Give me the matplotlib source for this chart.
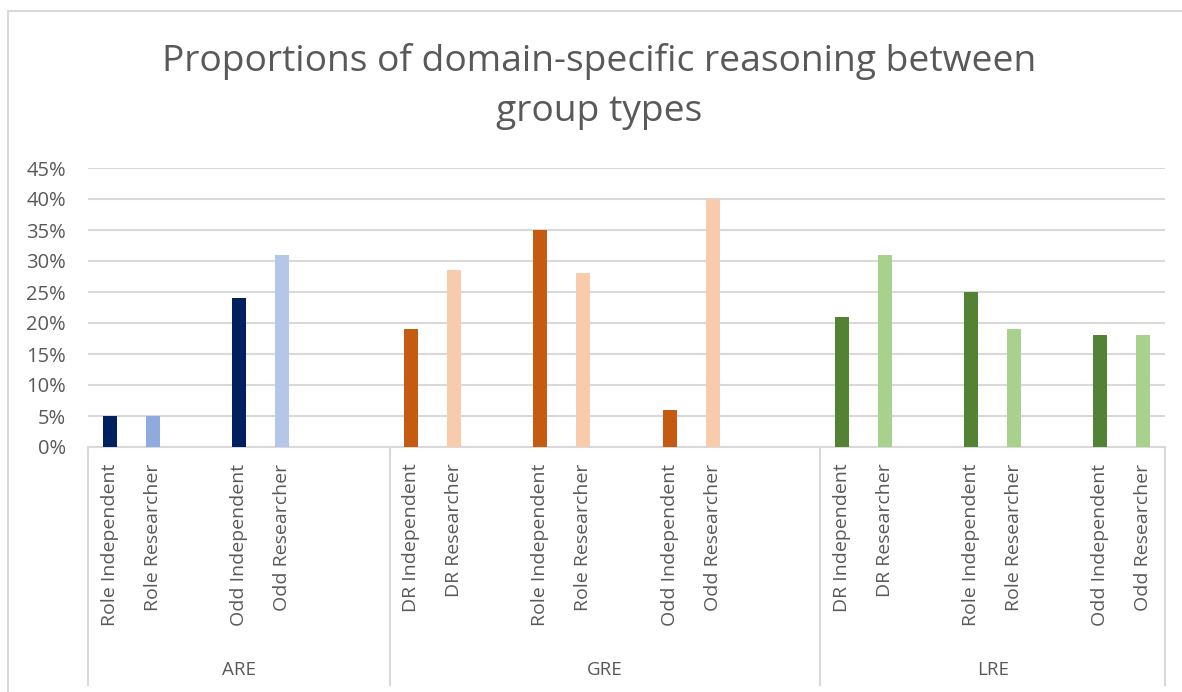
import matplotlib.pyplot as plt
import matplotlib.patches as patches
import numpy as np

plt.rcParams['font.family'] = ['Open Sans', 'DejaVu Sans']

# data, one slot per category (blank slots are empty categories in the source sheet)
groups = ["ARE", "GRE", "LRE"]
are_labels = ["Role Independent", "Role Researcher", "", "Odd Independent", "Odd Researcher", "", ""]
are_values = [0.05, 0.05, np.nan, 0.24, 0.31, np.nan, np.nan]
gre_labels = ["DR Independent", "DR Researcher", "", "Role Independent", "Role Researcher", "",
              "Odd Independent", "Odd Researcher", "", ""]
gre_values = [0.19, 0.285, np.nan, 0.35, 0.28, np.nan, 0.06, 0.40, np.nan, np.nan]
lre_labels = ["DR Independent", "DR Researcher", "", "Role Independent", "Role Researcher", "",
              "Odd Independent", "Odd Researcher"]
lre_values = [0.21, 0.31, np.nan, 0.25, 0.19, np.nan, 0.18, 0.18]

are_colors = ["#002060", "#8FAADC", "w", "#002060", "#B4C7E7", "w", "w"]
gre_colors = ["#C55A11", "#F8CBAD", "w"] * 3 + ["w"]
lre_colors = ["#548235", "#A9D18E", "w"] * 2 + ["#548235", "#A9D18E"]

labels = are_labels + gre_labels + lre_labels
values = are_values + gre_values + lre_values
colors = are_colors + gre_colors + lre_colors
sizes = [len(are_labels), len(gre_labels), len(lre_labels)]

text_col = "#595959"
grid_col = "#D9D9D9"

fig = plt.figure(figsize=(11.82, 6.92), dpi=100)
ax = fig.add_axes([88/1182, 1 - 447/692, (1165 - 88)/1182, (447 - 168)/692])

x = np.arange(len(labels))
ax.bar(x, np.nan_to_num(values), width=0.325, color=colors, zorder=3)

ax.set_xlim(-0.5, len(labels) - 0.5)
ax.set_ylim(0, 0.45)
ax.set_yticks(np.arange(0, 0.46, 0.05))
ax.set_yticklabels([f"{int(round(v*100))}%" for v in np.arange(0, 0.46, 0.05)])
ax.yaxis.grid(True, color=grid_col, linewidth=1.5, zorder=0)
ax.set_axisbelow(True)
for s in ["top", "right", "left"]:
    ax.spines[s].set_visible(False)
ax.spines["bottom"].set_color(grid_col)
ax.spines["bottom"].set_linewidth(1.5)
ax.tick_params(axis="y", length=0, labelsize=14.5, labelcolor=text_col, pad=16)
ax.tick_params(axis="x", length=0, labelsize=14, labelcolor=text_col, pad=12)

ax.set_xticks(x)
ax.set_xticklabels(labels, rotation=90, va="top", ha="center")

# group separators and group names under the category labels
trans = ax.get_xaxis_transform()
edges = np.concatenate([[0], np.cumsum(sizes)]) - 0.5
line_bottom = -(685 - 447) / (447 - 168)
for e in edges:
    ax.plot([e, e], [0, line_bottom], transform=trans, color=grid_col, lw=1.5, clip_on=False)
for i, g in enumerate(groups):
    ax.text((edges[i] + edges[i + 1]) / 2, -(670 - 447) / (447 - 168), g, transform=trans,
            ha="center", va="center", fontsize=13.5, color=text_col)

fig.text(0.507, 1 - 62/692, "Proportions of domain-specific reasoning between",
         ha="center", va="center", fontsize=26.8, color=text_col)
fig.text(0.507, 1 - 112/692, "group types", ha="center", va="center", fontsize=26.8, color=text_col)

# chart area border
fig.patches.append(patches.Rectangle((8/1182, -0.1), 1.2, 1 - 11/692 + 0.1, transform=fig.transFigure,
                                     fill=False, edgecolor=grid_col, linewidth=1.5))

fig.savefig("out.png", dpi=100)
